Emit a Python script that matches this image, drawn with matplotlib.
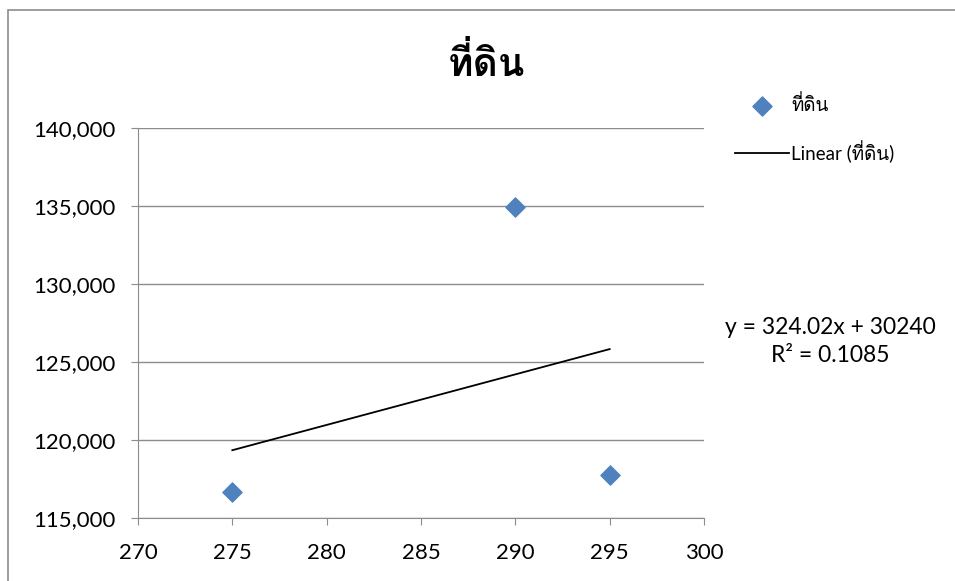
import matplotlib
matplotlib.use('Agg')
import matplotlib.pyplot as plt
import numpy as np
from matplotlib.ticker import FuncFormatter

# data
price = [275, 290, 295]
land = [116660, 134950, 117770]
series_name = 'ที่ดิน'
eq_text = 'y = 324.02x + 30240'
r2_text = 'R² = 0.1085'
x_ticks = [270, 275, 280, 285, 290, 295, 300]
y_ticks = [115000, 120000, 125000, 130000, 135000, 140000]

# Lato for latin text, Loma for the Thai glyphs
plt.rcParams['font.family'] = ['Lato', 'Loma', 'DejaVu Sans']

W, H = 955, 581
fig = plt.figure(figsize=(W / 100, H / 100), dpi=100)
ax = fig.add_axes([138 / W, 1 - 518 / H, (704 - 138) / W, (518 - 128) / H])

# outer chart border
fig.patches.append(plt.Rectangle((8 / W, -0.01), 1, 1.01 - 10 / H, transform=fig.transFigure,
                                 fill=False, edgecolor='#8c8c8c', linewidth=1.2))

ax.scatter(price, land, marker='D', s=95, color='#4F81BD', zorder=3, label=series_name)

# linear trendline
slope, icpt = np.polyfit(price, land, 1)
tx = np.array([min(price), max(price)])
ax.plot(tx, slope * tx + icpt, color='black', linewidth=1.3, zorder=2,
        label='Linear (' + series_name + ')')

ax.set_xlim(270, 300)
ax.set_ylim(115000, 140000)
ax.set_xticks(x_ticks)
ax.set_yticks(y_ticks)
ax.yaxis.set_major_formatter(FuncFormatter(lambda v, p: f'{int(v):,}'))
ax.grid(axis='y', color='#8c8c8c', linewidth=1)
ax.set_axisbelow(True)
for s in ['top', 'right']:
    ax.spines[s].set_visible(False)
for s in ['left', 'bottom']:
    ax.spines[s].set_color('#8c8c8c')
ax.tick_params(axis='both', colors='#8c8c8c', labelcolor='black', labelsize=16,
               length=5, direction='out')
ax.tick_params(axis='x', pad=13)
ax.tick_params(axis='y', pad=11)

fig.text(486 / W, 1 - 62 / H, series_name, ha='center', va='center',
         fontsize=28, fontweight='bold')

fig.text(830 / W, 1 - 328 / H, eq_text, ha='center', va='center', fontsize=16.5)
fig.text(830 / W, 1 - 356 / H, r2_text, ha='center', va='center', fontsize=16.5)

fig.legend(loc='upper left', bbox_to_anchor=(735 / W, 1 - 94 / H), frameon=False,
           fontsize=13.5, handlelength=2.9, handletextpad=0.1, labelspacing=1.4,
           borderaxespad=0, borderpad=0)

fig.savefig('out.png', dpi=100)
